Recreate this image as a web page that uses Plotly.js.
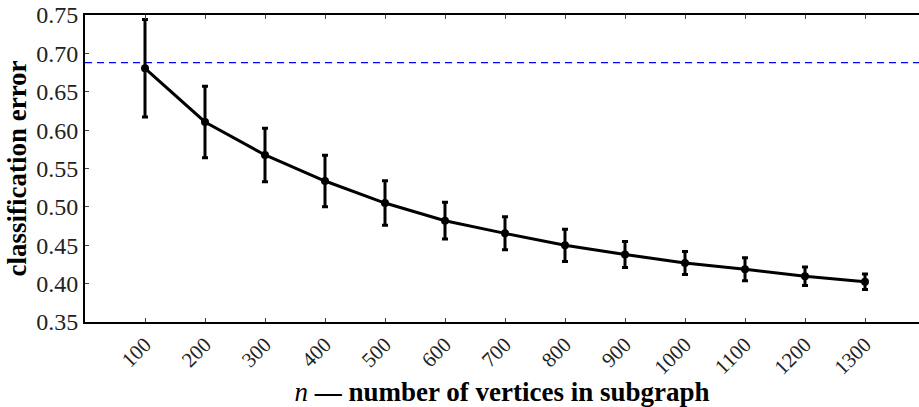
<!DOCTYPE html>
<html>
<head>
<meta charset="utf-8">
<script src="https://cdn.plot.ly/plotly-3.0.1.min.js"></script>
<style>html,body{margin:0;padding:0;background:#fff;}#chart{width:919px;height:407px;}</style>
</head>
<body>
<div id="chart"></div>
<script>
const nVertices = [100, 200, 300, 400, 500, 600, 700, 800, 900, 1000, 1100, 1200, 1300];
const classError = [0.6805, 0.6106, 0.5676, 0.5337, 0.5050, 0.4820, 0.4655, 0.4499, 0.4380, 0.4270, 0.4186, 0.4095, 0.4025];
const errorBar = [0.0635, 0.0465, 0.0350, 0.0335, 0.0290, 0.0240, 0.0215, 0.0210, 0.0170, 0.0150, 0.0150, 0.0120, 0.0100];
const chanceLevel = 0.688;
const xTickVals = [100, 200, 300, 400, 500, 600, 700, 800, 900, 1000, 1100, 1200, 1300];
const yTickVals = [0.35, 0.40, 0.45, 0.50, 0.55, 0.60, 0.65, 0.70, 0.75];

const font = "'Liberation Serif', 'DejaVu Serif', serif";

const trace = {
  x: nVertices,
  y: classError,
  type: 'scatter',
  mode: 'lines+markers',
  line: {color: '#000', width: 3},
  marker: {color: '#000', size: 8},
  error_y: {type: 'data', array: errorBar, visible: true, color: '#000', thickness: 3, width: 3},
  showlegend: false,
  cliponaxis: false
};

const layout = {
  width: 919, height: 407,
  margin: {l: 85, r: 0, t: 15, b: 85},
  paper_bgcolor: '#fff', plot_bgcolor: '#fff',
  font: {family: font, color: '#000', size: 20},
  xaxis: {
    range: [0, 1390],
    tickvals: xTickVals,
    ticktext: xTickVals.map(String),
    tickangle: -45,
    ticks: 'inside', ticklen: 4, tickwidth: 1, tickcolor: '#444',
    showline: true, linecolor: '#000', linewidth: 2, mirror: 'allticks',
    showgrid: false, zeroline: false,
    tickfont: {family: font, size: 21, color: '#222'},
    title: {text: '<i>n</i> <b>— number of vertices in subgraph</b>', font: {family: font, size: 27, color: '#000'}, standoff: 0}
  },
  yaxis: {
    range: [0.35, 0.75],
    tickvals: yTickVals,
    ticktext: yTickVals.map(v => v.toFixed(2)),
    ticks: 'inside', ticklen: 4, tickwidth: 1, tickcolor: '#444',
    showline: true, linecolor: '#000', linewidth: 2, mirror: false,
    showgrid: false, zeroline: false,
    tickfont: {family: font, size: 24, color: '#222'},
    title: {text: '<b>classification error</b>', font: {family: font, size: 27, color: '#000'}, standoff: 2}
  },
  shapes: [{
    type: 'line', xref: 'paper', x0: 0, x1: 1, yref: 'y', y0: chanceLevel, y1: chanceLevel,
    line: {color: '#0000ff', width: 1.2, dash: '7px,5px'}, layer: 'below'
  }]
};

Plotly.newPlot('chart', [trace], layout, {displayModeBar: false, staticPlot: true});
</script>
</body>
</html>
